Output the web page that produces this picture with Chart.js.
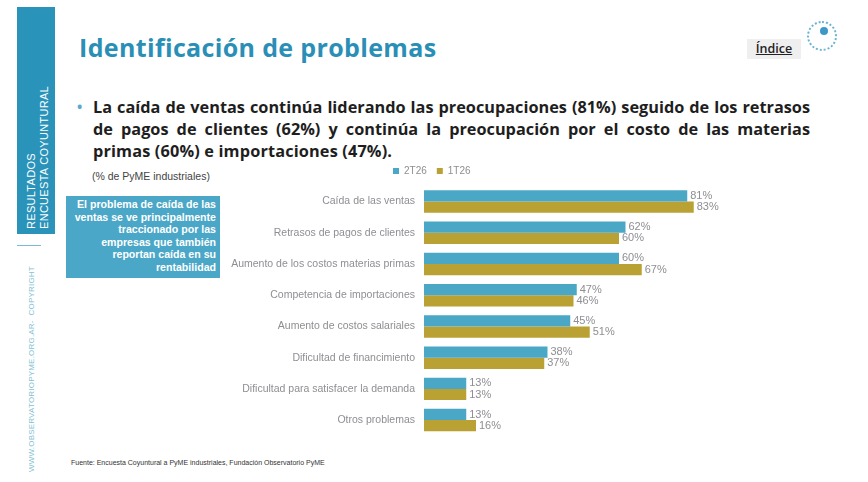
<!DOCTYPE html>
<html>
<head>
<meta charset="utf-8">
<script src="https://cdn.jsdelivr.net/npm/chart.js@4/dist/chart.umd.min.js"></script>
<style>
  html, body { margin: 0; padding: 0; background: #fff; }
  body { width: 868px; height: 482px; position: relative; overflow: hidden; font-family: "Liberation Sans", Arial, sans-serif; }
  .side { position: absolute; left: 17px; top: 7px; width: 38px; height: 227px; background: #2a93ba; }
  .side span { position: absolute; left: 8px; top: 64px; height: 158px; writing-mode: vertical-rl; transform: rotate(180deg);
    color: #fff; font-size: 11px; line-height: 13px; white-space: nowrap; letter-spacing: 0.3px; }
  .sideline { position: absolute; left: 17px; top: 245px; width: 24px; height: 1px; background: #7fb9cf; }
  .copy { position: absolute; left: 27px; top: 262px; height: 210px; writing-mode: vertical-rl; transform: rotate(180deg);
    color: #84bfd4; font-size: 8px; white-space: nowrap; letter-spacing: 0.2px; }
  h1 { position: absolute; left: 79px; top: 30px; margin: 0; font-family: "Open Sans", sans-serif; font-weight: 700;
    font-size: 25px; color: #2a8fb6; letter-spacing: 0.35px; }
  .indice { position: absolute; left: 747px; top: 39px; width: 54px; height: 20px; background: #efefef;
    font-family: "Open Sans", sans-serif; font-size: 12.5px; font-weight: 600; color: #222; text-align: center; line-height: 20px; }
  .logo { position: absolute; left: 807px; top: 21px; width: 26px; height: 26px; border-radius: 50%;
    border: 2px dotted #6bb3d3; }
  .logo::after { content: ""; position: absolute; left: 11px; top: 4px; width: 8px; height: 8px; border-radius: 50%; background: #3d97c9; }
  .bullet { position: absolute; left: 93px; top: 96px; width: 717px; margin: 0; font-family: "Open Sans", sans-serif;
    font-weight: 700; font-size: 16.3px; line-height: 22px; color: #1e1e1e; white-space: nowrap; }
  .bullet span { display: block; text-align: justify; text-align-last: justify; }
  .bullet span.last { text-align-last: left; letter-spacing: 0.15px; }
  .bullet::before { content: "\2022"; position: absolute; left: -16px; color: #5aa9c9; font-size: 14px; }
  .unit { position: absolute; left: 92px; top: 170px; font-size: 10.5px; color: #444; }
  .note { position: absolute; left: 66px; top: 196px; width: 150px; height: 80px; padding: 2px 4px 0 0; background: #4aa7c7;
    color: #fff; font-weight: 700; font-size: 10.6px; line-height: 12.6px; text-align: right; white-space: nowrap; }
  .src { position: absolute; left: 71px; top: 459px; font-size: 7px; color: #333; }
  #wrap { position: absolute; left: 225px; top: 153px; width: 545px; height: 298px; }
</style>
</head>
<body>
<div class="side"><span>RESULTADOS<br>ENCUESTA COYUNTURAL</span></div>
<div class="sideline"></div>
<div class="copy">WWW.OBSERVATORIOPYME.ORG.AR-&nbsp; COPYRIGHT</div>
<h1>Identificación de problemas</h1>
<div class="indice"><u>Índice</u></div>
<div class="logo"></div>
<p class="bullet"><span>La caída de ventas continúa liderando las preocupaciones (81%) seguido de los retrasos</span><span>de pagos de clientes (62%) y continúa la preocupación por el costo de las materias</span><span class="last">primas (60%) e importaciones (47%).</span></p>
<div class="unit">(% de PyME industriales)</div>
<div class="note">El problema de caída de las<br>ventas se ve principalmente<br>traccionado por las<br>empresas que también<br>reportan caída en su<br>rentabilidad</div>
<div class="src">Fuente: Encuesta Coyuntural a PyME industriales, Fundación Observatorio PyME</div>
<div id="wrap"><canvas id="problemasChart"></canvas></div>

<script>
const categories = [
  "Caída de las ventas",
  "Retrasos de pagos de clientes",
  "Aumento de los costos materias primas",
  "Competencia de importaciones",
  "Aumento de costos salariales",
  "Dificultad de financimiento",
  "Dificultad para satisfacer la demanda",
  "Otros problemas"
];
const serie2T26 = [81, 62, 60, 47, 45, 38, 13, 13];
const serie1T26 = [83, 60, 67, 46, 51, 37, 13, 16];
const seriesNames = ["2T26", "1T26"];

// value labels at the end of each bar
const valueLabels = {
  id: "valueLabels",
  afterDatasetsDraw(chart) {
    const ctx = chart.ctx;
    ctx.save();
    ctx.font = "11px 'Liberation Sans', Arial, sans-serif";
    ctx.fillStyle = "#8e8e94";
    ctx.textBaseline = "middle";
    chart.data.datasets.forEach((ds, i) => {
      chart.getDatasetMeta(i).data.forEach((bar, j) => {
        ctx.fillText(ds.data[j] + "%", bar.x + 3, bar.y);
      });
    });
    ctx.restore();
  }
};

// move the legend over the labels column like in the slide
const legendShift = {
  id: "legendShift",
  afterUpdate(chart) {
    chart.legend.left = 158;
  }
};

const ctx = document.getElementById("problemasChart").getContext("2d");
new Chart(ctx, {
  type: "bar",
  data: {
    labels: categories,
    datasets: [
      { label: seriesNames[0], data: serie2T26, backgroundColor: "#4aa7c6" },
      { label: seriesNames[1], data: serie1T26, backgroundColor: "#b9a233" }
    ]
  },
  options: {
    indexAxis: "y",
    responsive: true,
    maintainAspectRatio: false,
    animation: false,
    layout: { padding: { top: 3, right: 21, bottom: 4, left: 0 } },
    datasets: { bar: { categoryPercentage: 0.72, barPercentage: 1.0 } },
    plugins: {
      legend: {
        position: "top",
        align: "start",
        labels: {
          boxWidth: 6,
          boxHeight: 6,
          padding: 10,
          color: "#8e8e94",
          font: { size: 10, family: "'Liberation Sans', Arial, sans-serif" }
        }
      },
      tooltip: { enabled: false }
    },
    scales: {
      x: { display: false, min: 0, max: 100 },
      y: {
        grid: { display: false, drawTicks: false },
        border: { display: false },
        afterFit(scale) { scale.width = 199; },
        ticks: {
          padding: 9,
          color: "#8e8e94",
          font: { size: 10.5, family: "'Liberation Sans', Arial, sans-serif" }
        }
      }
    }
  },
  plugins: [valueLabels, legendShift]
});
</script>
</body>
</html>
